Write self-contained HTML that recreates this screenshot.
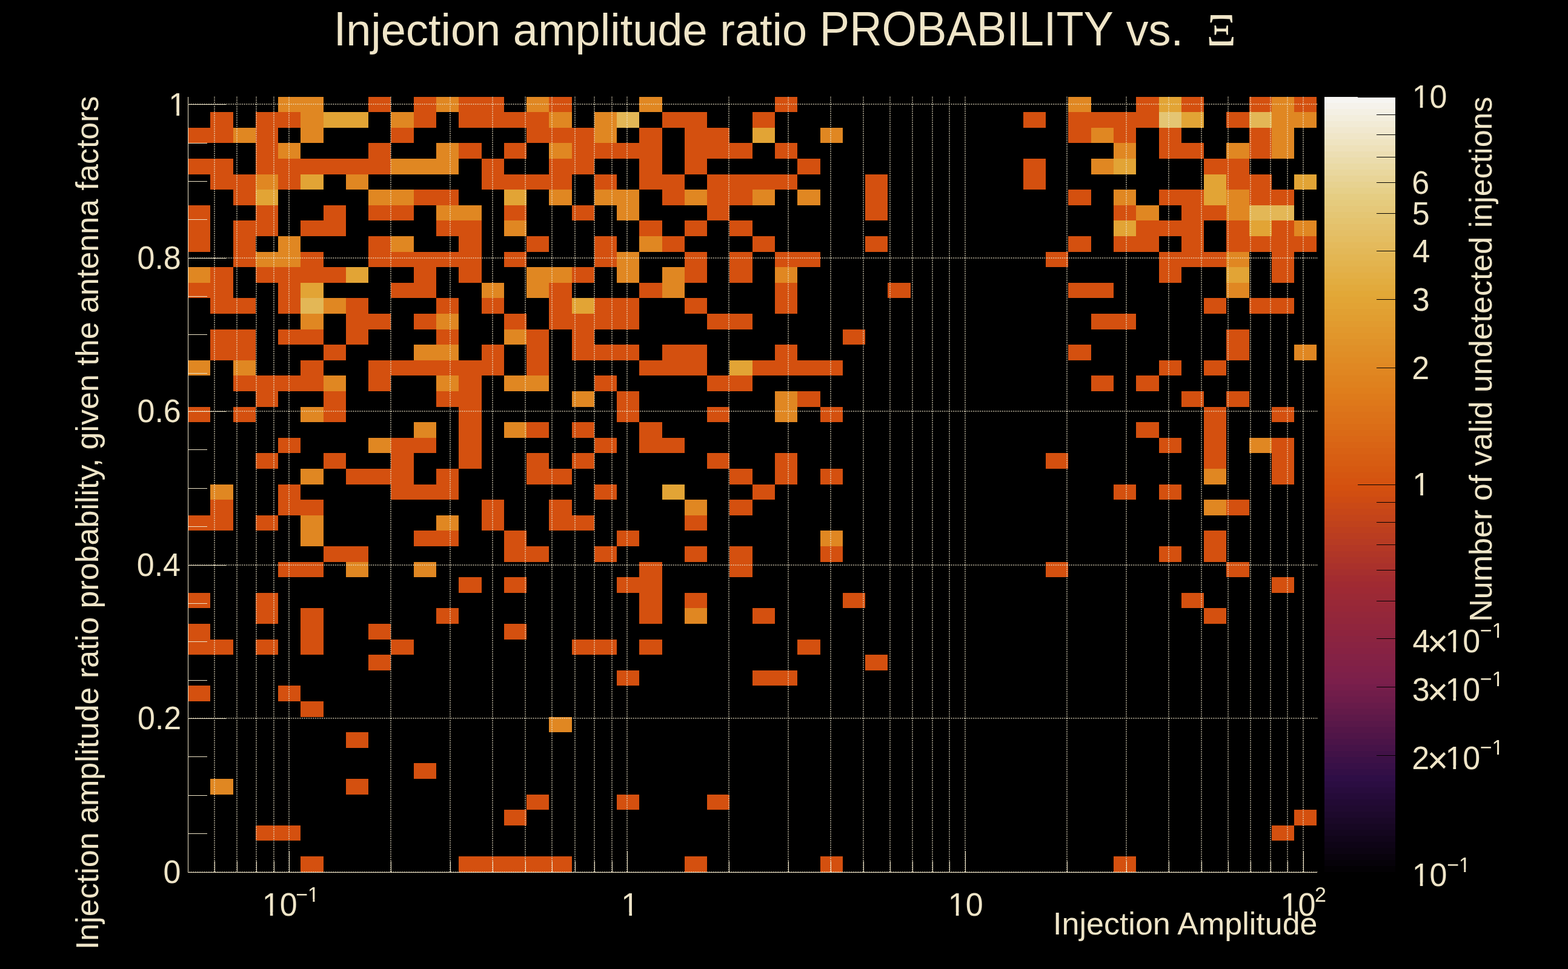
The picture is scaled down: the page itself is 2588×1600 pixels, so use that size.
<!DOCTYPE html>
<html lang="en"><head><meta charset="utf-8"><title>Injection amplitude ratio PROBABILITY vs. Xi</title>
<style>html,body{margin:0;padding:0;background:#000;overflow:hidden}svg{display:block}text{font-family:"Liberation Sans",Arial,Helvetica,sans-serif;fill:#efe5c8}.xi{font-family:"Liberation Serif","DejaVu Serif",serif}</style>
</head><body>
<svg xmlns="http://www.w3.org/2000/svg" width="2588" height="1600" viewBox="0 0 2588 1600">
<rect x="0" y="0" width="2588" height="1600" fill="#000"/>
<g shape-rendering="crispEdges">
<rect x="459" y="160" width="75" height="25" fill="#e08722"/>
<rect x="608" y="160" width="37" height="25" fill="#d4500f"/>
<rect x="683" y="160" width="37" height="25" fill="#d4500f"/>
<rect x="720" y="160" width="37" height="25" fill="#e08722"/>
<rect x="757" y="160" width="75" height="25" fill="#d4500f"/>
<rect x="869" y="160" width="37" height="25" fill="#e08722"/>
<rect x="906" y="160" width="38" height="25" fill="#d4500f"/>
<rect x="1055" y="160" width="38" height="25" fill="#e08722"/>
<rect x="1279" y="160" width="37" height="25" fill="#d4500f"/>
<rect x="1763" y="160" width="38" height="25" fill="#e08722"/>
<rect x="1875" y="160" width="38" height="25" fill="#d4500f"/>
<rect x="1913" y="160" width="37" height="25" fill="#e2a435"/>
<rect x="1950" y="160" width="37" height="25" fill="#d4500f"/>
<rect x="2062" y="160" width="37" height="25" fill="#d4500f"/>
<rect x="2099" y="160" width="37" height="25" fill="#e08722"/>
<rect x="2136" y="160" width="37" height="25" fill="#d4500f"/>
<rect x="347" y="185" width="38" height="26" fill="#d4500f"/>
<rect x="422" y="185" width="74" height="26" fill="#d4500f"/>
<rect x="496" y="185" width="38" height="26" fill="#e08722"/>
<rect x="534" y="185" width="74" height="26" fill="#e2a435"/>
<rect x="645" y="185" width="38" height="26" fill="#e08722"/>
<rect x="683" y="185" width="37" height="26" fill="#d4500f"/>
<rect x="757" y="185" width="149" height="26" fill="#d4500f"/>
<rect x="906" y="185" width="38" height="26" fill="#e08722"/>
<rect x="981" y="185" width="37" height="26" fill="#e08722"/>
<rect x="1018" y="185" width="37" height="26" fill="#e3b756"/>
<rect x="1093" y="185" width="74" height="26" fill="#d4500f"/>
<rect x="1242" y="185" width="37" height="26" fill="#d4500f"/>
<rect x="1689" y="185" width="37" height="26" fill="#d4500f"/>
<rect x="1763" y="185" width="150" height="26" fill="#d4500f"/>
<rect x="1913" y="185" width="37" height="26" fill="#e4c573"/>
<rect x="1950" y="185" width="37" height="26" fill="#e2a435"/>
<rect x="2024" y="185" width="38" height="26" fill="#d4500f"/>
<rect x="2062" y="185" width="37" height="26" fill="#e3b756"/>
<rect x="2099" y="185" width="74" height="26" fill="#e08722"/>
<rect x="310" y="211" width="75" height="25" fill="#d4500f"/>
<rect x="385" y="211" width="37" height="25" fill="#e08722"/>
<rect x="422" y="211" width="37" height="25" fill="#d4500f"/>
<rect x="496" y="211" width="38" height="25" fill="#e08722"/>
<rect x="645" y="211" width="38" height="25" fill="#d4500f"/>
<rect x="869" y="211" width="112" height="25" fill="#d4500f"/>
<rect x="981" y="211" width="37" height="25" fill="#e08722"/>
<rect x="1055" y="211" width="38" height="25" fill="#d4500f"/>
<rect x="1130" y="211" width="74" height="25" fill="#d4500f"/>
<rect x="1242" y="211" width="37" height="25" fill="#e2a435"/>
<rect x="1354" y="211" width="37" height="25" fill="#e08722"/>
<rect x="1763" y="211" width="38" height="25" fill="#d4500f"/>
<rect x="1801" y="211" width="37" height="25" fill="#e08722"/>
<rect x="1838" y="211" width="37" height="25" fill="#d4500f"/>
<rect x="1913" y="211" width="37" height="25" fill="#d4500f"/>
<rect x="2062" y="211" width="37" height="25" fill="#d4500f"/>
<rect x="2099" y="211" width="37" height="25" fill="#e08722"/>
<rect x="422" y="236" width="37" height="26" fill="#d4500f"/>
<rect x="459" y="236" width="37" height="26" fill="#e08722"/>
<rect x="608" y="236" width="37" height="26" fill="#d4500f"/>
<rect x="720" y="236" width="37" height="26" fill="#e08722"/>
<rect x="757" y="236" width="38" height="26" fill="#d4500f"/>
<rect x="832" y="236" width="37" height="26" fill="#d4500f"/>
<rect x="906" y="236" width="38" height="26" fill="#e08722"/>
<rect x="944" y="236" width="149" height="26" fill="#d4500f"/>
<rect x="1130" y="236" width="112" height="26" fill="#d4500f"/>
<rect x="1279" y="236" width="37" height="26" fill="#d4500f"/>
<rect x="1838" y="236" width="37" height="26" fill="#e08722"/>
<rect x="1913" y="236" width="74" height="26" fill="#d4500f"/>
<rect x="2024" y="236" width="38" height="26" fill="#e08722"/>
<rect x="2062" y="236" width="37" height="26" fill="#d4500f"/>
<rect x="2099" y="236" width="37" height="26" fill="#e08722"/>
<rect x="310" y="262" width="75" height="26" fill="#d4500f"/>
<rect x="422" y="262" width="223" height="26" fill="#d4500f"/>
<rect x="645" y="262" width="112" height="26" fill="#e08722"/>
<rect x="795" y="262" width="37" height="26" fill="#d4500f"/>
<rect x="906" y="262" width="75" height="26" fill="#d4500f"/>
<rect x="1055" y="262" width="38" height="26" fill="#d4500f"/>
<rect x="1130" y="262" width="37" height="26" fill="#d4500f"/>
<rect x="1316" y="262" width="38" height="26" fill="#d4500f"/>
<rect x="1689" y="262" width="37" height="26" fill="#d4500f"/>
<rect x="1801" y="262" width="37" height="26" fill="#e08722"/>
<rect x="1838" y="262" width="37" height="26" fill="#e2a435"/>
<rect x="1987" y="262" width="75" height="26" fill="#d4500f"/>
<rect x="347" y="288" width="75" height="25" fill="#d4500f"/>
<rect x="422" y="288" width="37" height="25" fill="#e08722"/>
<rect x="459" y="288" width="37" height="25" fill="#d4500f"/>
<rect x="496" y="288" width="38" height="25" fill="#e2a435"/>
<rect x="571" y="288" width="37" height="25" fill="#e08722"/>
<rect x="795" y="288" width="149" height="25" fill="#d4500f"/>
<rect x="981" y="288" width="37" height="25" fill="#d4500f"/>
<rect x="1055" y="288" width="75" height="25" fill="#d4500f"/>
<rect x="1167" y="288" width="149" height="25" fill="#d4500f"/>
<rect x="1428" y="288" width="37" height="25" fill="#d4500f"/>
<rect x="1689" y="288" width="37" height="25" fill="#d4500f"/>
<rect x="1987" y="288" width="37" height="25" fill="#e2a435"/>
<rect x="2024" y="288" width="75" height="25" fill="#d4500f"/>
<rect x="2136" y="288" width="37" height="25" fill="#e2a435"/>
<rect x="385" y="313" width="37" height="26" fill="#d4500f"/>
<rect x="422" y="313" width="37" height="26" fill="#e2a435"/>
<rect x="608" y="313" width="75" height="26" fill="#e08722"/>
<rect x="683" y="313" width="74" height="26" fill="#d4500f"/>
<rect x="832" y="313" width="37" height="26" fill="#e2a435"/>
<rect x="906" y="313" width="38" height="26" fill="#e08722"/>
<rect x="981" y="313" width="74" height="26" fill="#e08722"/>
<rect x="1093" y="313" width="37" height="26" fill="#d4500f"/>
<rect x="1130" y="313" width="37" height="26" fill="#e08722"/>
<rect x="1167" y="313" width="75" height="26" fill="#d4500f"/>
<rect x="1242" y="313" width="37" height="26" fill="#e08722"/>
<rect x="1316" y="313" width="38" height="26" fill="#e08722"/>
<rect x="1428" y="313" width="37" height="26" fill="#d4500f"/>
<rect x="1763" y="313" width="38" height="26" fill="#d4500f"/>
<rect x="1838" y="313" width="37" height="26" fill="#e08722"/>
<rect x="1913" y="313" width="74" height="26" fill="#d4500f"/>
<rect x="1987" y="313" width="37" height="26" fill="#e2a435"/>
<rect x="2024" y="313" width="38" height="26" fill="#e08722"/>
<rect x="2062" y="313" width="74" height="26" fill="#d4500f"/>
<rect x="310" y="339" width="37" height="25" fill="#d4500f"/>
<rect x="422" y="339" width="37" height="25" fill="#d4500f"/>
<rect x="534" y="339" width="37" height="25" fill="#d4500f"/>
<rect x="608" y="339" width="75" height="25" fill="#d4500f"/>
<rect x="720" y="339" width="75" height="25" fill="#e08722"/>
<rect x="832" y="339" width="37" height="25" fill="#d4500f"/>
<rect x="944" y="339" width="37" height="25" fill="#d4500f"/>
<rect x="1018" y="339" width="37" height="25" fill="#e08722"/>
<rect x="1167" y="339" width="37" height="25" fill="#d4500f"/>
<rect x="1428" y="339" width="37" height="25" fill="#d4500f"/>
<rect x="1838" y="339" width="37" height="25" fill="#d4500f"/>
<rect x="1875" y="339" width="38" height="25" fill="#e08722"/>
<rect x="1950" y="339" width="74" height="25" fill="#d4500f"/>
<rect x="2024" y="339" width="38" height="25" fill="#e08722"/>
<rect x="2062" y="339" width="74" height="25" fill="#e3b756"/>
<rect x="310" y="364" width="37" height="26" fill="#d4500f"/>
<rect x="385" y="364" width="74" height="26" fill="#d4500f"/>
<rect x="496" y="364" width="75" height="26" fill="#d4500f"/>
<rect x="720" y="364" width="75" height="26" fill="#d4500f"/>
<rect x="832" y="364" width="37" height="26" fill="#e08722"/>
<rect x="1055" y="364" width="38" height="26" fill="#d4500f"/>
<rect x="1130" y="364" width="37" height="26" fill="#d4500f"/>
<rect x="1204" y="364" width="38" height="26" fill="#d4500f"/>
<rect x="1838" y="364" width="37" height="26" fill="#e2a435"/>
<rect x="1875" y="364" width="112" height="26" fill="#d4500f"/>
<rect x="2024" y="364" width="38" height="26" fill="#d4500f"/>
<rect x="2062" y="364" width="37" height="26" fill="#e2a435"/>
<rect x="2099" y="364" width="37" height="26" fill="#d4500f"/>
<rect x="2136" y="364" width="37" height="26" fill="#e08722"/>
<rect x="310" y="390" width="37" height="26" fill="#d4500f"/>
<rect x="385" y="390" width="37" height="26" fill="#d4500f"/>
<rect x="459" y="390" width="37" height="26" fill="#e08722"/>
<rect x="608" y="390" width="37" height="26" fill="#d4500f"/>
<rect x="645" y="390" width="38" height="26" fill="#e08722"/>
<rect x="757" y="390" width="38" height="26" fill="#d4500f"/>
<rect x="869" y="390" width="37" height="26" fill="#d4500f"/>
<rect x="981" y="390" width="37" height="26" fill="#d4500f"/>
<rect x="1055" y="390" width="38" height="26" fill="#e08722"/>
<rect x="1093" y="390" width="37" height="26" fill="#d4500f"/>
<rect x="1242" y="390" width="37" height="26" fill="#d4500f"/>
<rect x="1428" y="390" width="37" height="26" fill="#d4500f"/>
<rect x="1763" y="390" width="38" height="26" fill="#d4500f"/>
<rect x="1838" y="390" width="75" height="26" fill="#d4500f"/>
<rect x="1950" y="390" width="37" height="26" fill="#d4500f"/>
<rect x="2024" y="390" width="149" height="26" fill="#d4500f"/>
<rect x="385" y="416" width="37" height="25" fill="#d4500f"/>
<rect x="422" y="416" width="74" height="25" fill="#e08722"/>
<rect x="496" y="416" width="38" height="25" fill="#d4500f"/>
<rect x="608" y="416" width="187" height="25" fill="#d4500f"/>
<rect x="832" y="416" width="37" height="25" fill="#d4500f"/>
<rect x="981" y="416" width="37" height="25" fill="#d4500f"/>
<rect x="1018" y="416" width="37" height="25" fill="#e08722"/>
<rect x="1130" y="416" width="37" height="25" fill="#d4500f"/>
<rect x="1204" y="416" width="38" height="25" fill="#d4500f"/>
<rect x="1279" y="416" width="75" height="25" fill="#d4500f"/>
<rect x="1726" y="416" width="37" height="25" fill="#d4500f"/>
<rect x="1913" y="416" width="111" height="25" fill="#d4500f"/>
<rect x="2024" y="416" width="38" height="25" fill="#e08722"/>
<rect x="2099" y="416" width="37" height="25" fill="#d4500f"/>
<rect x="310" y="441" width="37" height="26" fill="#e08722"/>
<rect x="347" y="441" width="38" height="26" fill="#d4500f"/>
<rect x="422" y="441" width="149" height="26" fill="#d4500f"/>
<rect x="571" y="441" width="37" height="26" fill="#e2a435"/>
<rect x="683" y="441" width="37" height="26" fill="#d4500f"/>
<rect x="757" y="441" width="38" height="26" fill="#d4500f"/>
<rect x="869" y="441" width="75" height="26" fill="#e08722"/>
<rect x="944" y="441" width="37" height="26" fill="#d4500f"/>
<rect x="1018" y="441" width="37" height="26" fill="#e08722"/>
<rect x="1093" y="441" width="37" height="26" fill="#e08722"/>
<rect x="1130" y="441" width="37" height="26" fill="#d4500f"/>
<rect x="1204" y="441" width="38" height="26" fill="#d4500f"/>
<rect x="1279" y="441" width="37" height="26" fill="#e08722"/>
<rect x="1913" y="441" width="37" height="26" fill="#d4500f"/>
<rect x="2024" y="441" width="38" height="26" fill="#e2a435"/>
<rect x="2099" y="441" width="37" height="26" fill="#d4500f"/>
<rect x="310" y="467" width="75" height="25" fill="#d4500f"/>
<rect x="459" y="467" width="37" height="25" fill="#d4500f"/>
<rect x="496" y="467" width="38" height="25" fill="#e2a435"/>
<rect x="645" y="467" width="75" height="25" fill="#d4500f"/>
<rect x="795" y="467" width="37" height="25" fill="#e08722"/>
<rect x="869" y="467" width="37" height="25" fill="#e08722"/>
<rect x="906" y="467" width="38" height="25" fill="#d4500f"/>
<rect x="1055" y="467" width="38" height="25" fill="#d4500f"/>
<rect x="1093" y="467" width="37" height="25" fill="#e08722"/>
<rect x="1279" y="467" width="37" height="25" fill="#d4500f"/>
<rect x="1465" y="467" width="38" height="25" fill="#d4500f"/>
<rect x="1763" y="467" width="75" height="25" fill="#d4500f"/>
<rect x="2024" y="467" width="38" height="25" fill="#e08722"/>
<rect x="347" y="492" width="75" height="26" fill="#d4500f"/>
<rect x="459" y="492" width="37" height="26" fill="#d4500f"/>
<rect x="496" y="492" width="38" height="26" fill="#e3b756"/>
<rect x="534" y="492" width="37" height="26" fill="#e08722"/>
<rect x="571" y="492" width="37" height="26" fill="#d4500f"/>
<rect x="720" y="492" width="37" height="26" fill="#d4500f"/>
<rect x="795" y="492" width="37" height="26" fill="#d4500f"/>
<rect x="906" y="492" width="38" height="26" fill="#d4500f"/>
<rect x="944" y="492" width="37" height="26" fill="#e2a435"/>
<rect x="981" y="492" width="74" height="26" fill="#d4500f"/>
<rect x="1130" y="492" width="37" height="26" fill="#d4500f"/>
<rect x="1279" y="492" width="37" height="26" fill="#d4500f"/>
<rect x="1987" y="492" width="37" height="26" fill="#d4500f"/>
<rect x="2062" y="492" width="74" height="26" fill="#d4500f"/>
<rect x="496" y="518" width="38" height="26" fill="#e08722"/>
<rect x="571" y="518" width="74" height="26" fill="#d4500f"/>
<rect x="683" y="518" width="37" height="26" fill="#d4500f"/>
<rect x="720" y="518" width="37" height="26" fill="#e08722"/>
<rect x="832" y="518" width="37" height="26" fill="#d4500f"/>
<rect x="906" y="518" width="149" height="26" fill="#d4500f"/>
<rect x="1167" y="518" width="75" height="26" fill="#d4500f"/>
<rect x="1801" y="518" width="74" height="26" fill="#d4500f"/>
<rect x="347" y="544" width="75" height="25" fill="#d4500f"/>
<rect x="459" y="544" width="75" height="25" fill="#d4500f"/>
<rect x="571" y="544" width="37" height="25" fill="#d4500f"/>
<rect x="720" y="544" width="37" height="25" fill="#d4500f"/>
<rect x="832" y="544" width="37" height="25" fill="#e08722"/>
<rect x="869" y="544" width="37" height="25" fill="#d4500f"/>
<rect x="944" y="544" width="37" height="25" fill="#d4500f"/>
<rect x="1391" y="544" width="37" height="25" fill="#d4500f"/>
<rect x="2024" y="544" width="38" height="25" fill="#d4500f"/>
<rect x="347" y="569" width="75" height="26" fill="#d4500f"/>
<rect x="534" y="569" width="37" height="26" fill="#d4500f"/>
<rect x="683" y="569" width="74" height="26" fill="#e08722"/>
<rect x="795" y="569" width="37" height="26" fill="#d4500f"/>
<rect x="869" y="569" width="37" height="26" fill="#d4500f"/>
<rect x="944" y="569" width="111" height="26" fill="#d4500f"/>
<rect x="1093" y="569" width="74" height="26" fill="#d4500f"/>
<rect x="1279" y="569" width="37" height="26" fill="#d4500f"/>
<rect x="1763" y="569" width="38" height="26" fill="#d4500f"/>
<rect x="2024" y="569" width="38" height="26" fill="#d4500f"/>
<rect x="2136" y="569" width="37" height="26" fill="#e08722"/>
<rect x="310" y="595" width="37" height="25" fill="#e08722"/>
<rect x="385" y="595" width="37" height="25" fill="#e08722"/>
<rect x="496" y="595" width="38" height="25" fill="#d4500f"/>
<rect x="608" y="595" width="224" height="25" fill="#d4500f"/>
<rect x="869" y="595" width="37" height="25" fill="#d4500f"/>
<rect x="1055" y="595" width="112" height="25" fill="#d4500f"/>
<rect x="1204" y="595" width="38" height="25" fill="#e2a435"/>
<rect x="1242" y="595" width="149" height="25" fill="#d4500f"/>
<rect x="1913" y="595" width="37" height="25" fill="#d4500f"/>
<rect x="1987" y="595" width="37" height="25" fill="#d4500f"/>
<rect x="385" y="620" width="149" height="26" fill="#d4500f"/>
<rect x="534" y="620" width="37" height="26" fill="#e08722"/>
<rect x="608" y="620" width="37" height="26" fill="#d4500f"/>
<rect x="720" y="620" width="37" height="26" fill="#e08722"/>
<rect x="757" y="620" width="38" height="26" fill="#d4500f"/>
<rect x="832" y="620" width="74" height="26" fill="#e08722"/>
<rect x="981" y="620" width="37" height="26" fill="#d4500f"/>
<rect x="1167" y="620" width="75" height="26" fill="#d4500f"/>
<rect x="1801" y="620" width="37" height="26" fill="#d4500f"/>
<rect x="1875" y="620" width="38" height="26" fill="#d4500f"/>
<rect x="422" y="646" width="37" height="26" fill="#d4500f"/>
<rect x="534" y="646" width="37" height="26" fill="#d4500f"/>
<rect x="720" y="646" width="75" height="26" fill="#d4500f"/>
<rect x="944" y="646" width="37" height="26" fill="#e08722"/>
<rect x="1018" y="646" width="37" height="26" fill="#d4500f"/>
<rect x="1279" y="646" width="37" height="26" fill="#e08722"/>
<rect x="1316" y="646" width="38" height="26" fill="#d4500f"/>
<rect x="1950" y="646" width="37" height="26" fill="#d4500f"/>
<rect x="2024" y="646" width="38" height="26" fill="#d4500f"/>
<rect x="310" y="672" width="37" height="25" fill="#d4500f"/>
<rect x="385" y="672" width="37" height="25" fill="#d4500f"/>
<rect x="496" y="672" width="38" height="25" fill="#e08722"/>
<rect x="534" y="672" width="37" height="25" fill="#d4500f"/>
<rect x="757" y="672" width="38" height="25" fill="#d4500f"/>
<rect x="1018" y="672" width="37" height="25" fill="#d4500f"/>
<rect x="1167" y="672" width="37" height="25" fill="#d4500f"/>
<rect x="1279" y="672" width="37" height="25" fill="#e08722"/>
<rect x="1354" y="672" width="37" height="25" fill="#d4500f"/>
<rect x="1987" y="672" width="37" height="25" fill="#d4500f"/>
<rect x="2099" y="672" width="37" height="25" fill="#d4500f"/>
<rect x="683" y="697" width="37" height="26" fill="#e08722"/>
<rect x="757" y="697" width="38" height="26" fill="#d4500f"/>
<rect x="832" y="697" width="37" height="26" fill="#e08722"/>
<rect x="869" y="697" width="37" height="26" fill="#d4500f"/>
<rect x="944" y="697" width="37" height="26" fill="#d4500f"/>
<rect x="1055" y="697" width="38" height="26" fill="#d4500f"/>
<rect x="1875" y="697" width="38" height="26" fill="#d4500f"/>
<rect x="1987" y="697" width="37" height="26" fill="#d4500f"/>
<rect x="459" y="723" width="37" height="25" fill="#d4500f"/>
<rect x="608" y="723" width="37" height="25" fill="#e08722"/>
<rect x="645" y="723" width="75" height="25" fill="#d4500f"/>
<rect x="757" y="723" width="38" height="25" fill="#d4500f"/>
<rect x="981" y="723" width="37" height="25" fill="#d4500f"/>
<rect x="1055" y="723" width="75" height="25" fill="#d4500f"/>
<rect x="1913" y="723" width="37" height="25" fill="#d4500f"/>
<rect x="1987" y="723" width="37" height="25" fill="#d4500f"/>
<rect x="2062" y="723" width="37" height="25" fill="#e08722"/>
<rect x="2099" y="723" width="37" height="25" fill="#d4500f"/>
<rect x="422" y="748" width="37" height="26" fill="#d4500f"/>
<rect x="534" y="748" width="37" height="26" fill="#d4500f"/>
<rect x="645" y="748" width="38" height="26" fill="#d4500f"/>
<rect x="757" y="748" width="38" height="26" fill="#d4500f"/>
<rect x="869" y="748" width="37" height="26" fill="#d4500f"/>
<rect x="944" y="748" width="37" height="26" fill="#d4500f"/>
<rect x="1167" y="748" width="37" height="26" fill="#d4500f"/>
<rect x="1279" y="748" width="37" height="26" fill="#d4500f"/>
<rect x="1726" y="748" width="37" height="26" fill="#d4500f"/>
<rect x="1987" y="748" width="37" height="26" fill="#d4500f"/>
<rect x="2099" y="748" width="37" height="26" fill="#d4500f"/>
<rect x="496" y="774" width="38" height="26" fill="#e08722"/>
<rect x="571" y="774" width="112" height="26" fill="#d4500f"/>
<rect x="720" y="774" width="37" height="26" fill="#d4500f"/>
<rect x="869" y="774" width="75" height="26" fill="#d4500f"/>
<rect x="1204" y="774" width="38" height="26" fill="#d4500f"/>
<rect x="1279" y="774" width="37" height="26" fill="#d4500f"/>
<rect x="1354" y="774" width="37" height="26" fill="#d4500f"/>
<rect x="1987" y="774" width="37" height="26" fill="#e08722"/>
<rect x="2099" y="774" width="37" height="26" fill="#d4500f"/>
<rect x="347" y="800" width="38" height="25" fill="#e08722"/>
<rect x="459" y="800" width="37" height="25" fill="#d4500f"/>
<rect x="645" y="800" width="112" height="25" fill="#d4500f"/>
<rect x="981" y="800" width="37" height="25" fill="#d4500f"/>
<rect x="1093" y="800" width="37" height="25" fill="#e2a435"/>
<rect x="1242" y="800" width="37" height="25" fill="#d4500f"/>
<rect x="1838" y="800" width="37" height="25" fill="#d4500f"/>
<rect x="1913" y="800" width="37" height="25" fill="#d4500f"/>
<rect x="347" y="825" width="38" height="26" fill="#d4500f"/>
<rect x="459" y="825" width="75" height="26" fill="#d4500f"/>
<rect x="795" y="825" width="37" height="26" fill="#d4500f"/>
<rect x="906" y="825" width="38" height="26" fill="#d4500f"/>
<rect x="1130" y="825" width="37" height="26" fill="#e08722"/>
<rect x="1204" y="825" width="38" height="26" fill="#d4500f"/>
<rect x="1987" y="825" width="37" height="26" fill="#e08722"/>
<rect x="2024" y="825" width="38" height="26" fill="#d4500f"/>
<rect x="310" y="851" width="75" height="25" fill="#d4500f"/>
<rect x="422" y="851" width="37" height="25" fill="#d4500f"/>
<rect x="496" y="851" width="38" height="25" fill="#e08722"/>
<rect x="720" y="851" width="37" height="25" fill="#e08722"/>
<rect x="795" y="851" width="37" height="25" fill="#d4500f"/>
<rect x="906" y="851" width="75" height="25" fill="#d4500f"/>
<rect x="1130" y="851" width="37" height="25" fill="#d4500f"/>
<rect x="496" y="876" width="38" height="26" fill="#e08722"/>
<rect x="683" y="876" width="74" height="26" fill="#d4500f"/>
<rect x="832" y="876" width="37" height="26" fill="#d4500f"/>
<rect x="1018" y="876" width="37" height="26" fill="#d4500f"/>
<rect x="1354" y="876" width="37" height="26" fill="#e08722"/>
<rect x="1987" y="876" width="37" height="26" fill="#d4500f"/>
<rect x="534" y="902" width="74" height="26" fill="#d4500f"/>
<rect x="832" y="902" width="74" height="26" fill="#d4500f"/>
<rect x="981" y="902" width="37" height="26" fill="#d4500f"/>
<rect x="1130" y="902" width="37" height="26" fill="#d4500f"/>
<rect x="1204" y="902" width="38" height="26" fill="#d4500f"/>
<rect x="1354" y="902" width="37" height="26" fill="#d4500f"/>
<rect x="1913" y="902" width="37" height="26" fill="#d4500f"/>
<rect x="1987" y="902" width="37" height="26" fill="#d4500f"/>
<rect x="459" y="928" width="75" height="25" fill="#d4500f"/>
<rect x="571" y="928" width="37" height="25" fill="#e08722"/>
<rect x="683" y="928" width="37" height="25" fill="#e08722"/>
<rect x="1055" y="928" width="38" height="25" fill="#d4500f"/>
<rect x="1204" y="928" width="38" height="25" fill="#d4500f"/>
<rect x="1726" y="928" width="37" height="25" fill="#d4500f"/>
<rect x="2024" y="928" width="38" height="25" fill="#d4500f"/>
<rect x="757" y="953" width="38" height="26" fill="#d4500f"/>
<rect x="832" y="953" width="37" height="26" fill="#d4500f"/>
<rect x="1018" y="953" width="75" height="26" fill="#d4500f"/>
<rect x="2099" y="953" width="37" height="26" fill="#d4500f"/>
<rect x="310" y="979" width="37" height="25" fill="#d4500f"/>
<rect x="422" y="979" width="37" height="25" fill="#d4500f"/>
<rect x="1055" y="979" width="38" height="25" fill="#d4500f"/>
<rect x="1130" y="979" width="37" height="25" fill="#d4500f"/>
<rect x="1391" y="979" width="37" height="25" fill="#d4500f"/>
<rect x="1950" y="979" width="37" height="25" fill="#d4500f"/>
<rect x="422" y="1004" width="37" height="26" fill="#d4500f"/>
<rect x="496" y="1004" width="38" height="26" fill="#d4500f"/>
<rect x="720" y="1004" width="37" height="26" fill="#d4500f"/>
<rect x="1055" y="1004" width="38" height="26" fill="#d4500f"/>
<rect x="1130" y="1004" width="37" height="26" fill="#e08722"/>
<rect x="1242" y="1004" width="37" height="26" fill="#d4500f"/>
<rect x="1987" y="1004" width="37" height="26" fill="#d4500f"/>
<rect x="310" y="1030" width="37" height="26" fill="#d4500f"/>
<rect x="496" y="1030" width="38" height="26" fill="#d4500f"/>
<rect x="608" y="1030" width="37" height="26" fill="#d4500f"/>
<rect x="832" y="1030" width="37" height="26" fill="#d4500f"/>
<rect x="310" y="1056" width="75" height="25" fill="#d4500f"/>
<rect x="422" y="1056" width="37" height="25" fill="#d4500f"/>
<rect x="496" y="1056" width="38" height="25" fill="#d4500f"/>
<rect x="645" y="1056" width="38" height="25" fill="#d4500f"/>
<rect x="944" y="1056" width="74" height="25" fill="#d4500f"/>
<rect x="1055" y="1056" width="38" height="25" fill="#d4500f"/>
<rect x="1316" y="1056" width="38" height="25" fill="#d4500f"/>
<rect x="608" y="1081" width="37" height="26" fill="#d4500f"/>
<rect x="1428" y="1081" width="37" height="26" fill="#d4500f"/>
<rect x="1018" y="1107" width="37" height="25" fill="#d4500f"/>
<rect x="1242" y="1107" width="74" height="25" fill="#d4500f"/>
<rect x="310" y="1132" width="37" height="26" fill="#d4500f"/>
<rect x="459" y="1132" width="37" height="26" fill="#d4500f"/>
<rect x="496" y="1158" width="38" height="26" fill="#d4500f"/>
<rect x="906" y="1184" width="38" height="25" fill="#e08722"/>
<rect x="571" y="1209" width="37" height="26" fill="#d4500f"/>
<rect x="683" y="1260" width="37" height="26" fill="#d4500f"/>
<rect x="347" y="1286" width="38" height="26" fill="#e08722"/>
<rect x="571" y="1286" width="37" height="26" fill="#d4500f"/>
<rect x="869" y="1312" width="37" height="25" fill="#d4500f"/>
<rect x="1018" y="1312" width="37" height="25" fill="#d4500f"/>
<rect x="1167" y="1312" width="37" height="25" fill="#d4500f"/>
<rect x="832" y="1337" width="37" height="26" fill="#d4500f"/>
<rect x="2136" y="1337" width="37" height="26" fill="#d4500f"/>
<rect x="422" y="1363" width="74" height="25" fill="#d4500f"/>
<rect x="2099" y="1363" width="37" height="25" fill="#d4500f"/>
<rect x="496" y="1414" width="38" height="26" fill="#d4500f"/>
<rect x="757" y="1414" width="187" height="26" fill="#d4500f"/>
<rect x="1130" y="1414" width="37" height="26" fill="#d4500f"/>
<rect x="1354" y="1414" width="37" height="26" fill="#d4500f"/>
<rect x="1838" y="1414" width="37" height="26" fill="#d4500f"/>
</g>
<g shape-rendering="crispEdges" stroke="#efe5c8" fill="none">
<line x1="354" y1="160" x2="354" y2="1440" stroke-width="2" stroke-dasharray="1 2"/>
<line x1="391" y1="160" x2="391" y2="1440" stroke-width="2" stroke-dasharray="1 2"/>
<line x1="423" y1="160" x2="423" y2="1440" stroke-width="2" stroke-dasharray="1 2"/>
<line x1="452" y1="160" x2="452" y2="1440" stroke-width="2" stroke-dasharray="1 2"/>
<line x1="477" y1="160" x2="477" y2="1440" stroke-width="2" stroke-dasharray="1 2"/>
<line x1="645" y1="160" x2="645" y2="1440" stroke-width="2" stroke-dasharray="1 2"/>
<line x1="743" y1="160" x2="743" y2="1440" stroke-width="2" stroke-dasharray="1 2"/>
<line x1="813" y1="160" x2="813" y2="1440" stroke-width="2" stroke-dasharray="1 2"/>
<line x1="867" y1="160" x2="867" y2="1440" stroke-width="2" stroke-dasharray="1 2"/>
<line x1="911" y1="160" x2="911" y2="1440" stroke-width="2" stroke-dasharray="1 2"/>
<line x1="949" y1="160" x2="949" y2="1440" stroke-width="2" stroke-dasharray="1 2"/>
<line x1="981" y1="160" x2="981" y2="1440" stroke-width="2" stroke-dasharray="1 2"/>
<line x1="1010" y1="160" x2="1010" y2="1440" stroke-width="2" stroke-dasharray="1 2"/>
<line x1="1035" y1="160" x2="1035" y2="1440" stroke-width="2" stroke-dasharray="1 2"/>
<line x1="1203" y1="160" x2="1203" y2="1440" stroke-width="2" stroke-dasharray="1 2"/>
<line x1="1301" y1="160" x2="1301" y2="1440" stroke-width="2" stroke-dasharray="1 2"/>
<line x1="1371" y1="160" x2="1371" y2="1440" stroke-width="2" stroke-dasharray="1 2"/>
<line x1="1425" y1="160" x2="1425" y2="1440" stroke-width="2" stroke-dasharray="1 2"/>
<line x1="1469" y1="160" x2="1469" y2="1440" stroke-width="2" stroke-dasharray="1 2"/>
<line x1="1506" y1="160" x2="1506" y2="1440" stroke-width="2" stroke-dasharray="1 2"/>
<line x1="1539" y1="160" x2="1539" y2="1440" stroke-width="2" stroke-dasharray="1 2"/>
<line x1="1567" y1="160" x2="1567" y2="1440" stroke-width="2" stroke-dasharray="1 2"/>
<line x1="1593" y1="160" x2="1593" y2="1440" stroke-width="2" stroke-dasharray="1 2"/>
<line x1="1761" y1="160" x2="1761" y2="1440" stroke-width="2" stroke-dasharray="1 2"/>
<line x1="1859" y1="160" x2="1859" y2="1440" stroke-width="2" stroke-dasharray="1 2"/>
<line x1="1929" y1="160" x2="1929" y2="1440" stroke-width="2" stroke-dasharray="1 2"/>
<line x1="1983" y1="160" x2="1983" y2="1440" stroke-width="2" stroke-dasharray="1 2"/>
<line x1="2027" y1="160" x2="2027" y2="1440" stroke-width="2" stroke-dasharray="1 2"/>
<line x1="2064" y1="160" x2="2064" y2="1440" stroke-width="2" stroke-dasharray="1 2"/>
<line x1="2097" y1="160" x2="2097" y2="1440" stroke-width="2" stroke-dasharray="1 2"/>
<line x1="2125" y1="160" x2="2125" y2="1440" stroke-width="2" stroke-dasharray="1 2"/>
<line x1="2151" y1="160" x2="2151" y2="1440" stroke-width="2" stroke-dasharray="1 2"/>
<line x1="310" y1="1440" x2="2174" y2="1440" stroke-width="2" stroke-dasharray="1 2"/>
<line x1="310" y1="1186" x2="2174" y2="1186" stroke-width="2" stroke-dasharray="1 2"/>
<line x1="310" y1="933" x2="2174" y2="933" stroke-width="2" stroke-dasharray="1 2"/>
<line x1="310" y1="679" x2="2174" y2="679" stroke-width="2" stroke-dasharray="1 2"/>
<line x1="310" y1="426" x2="2174" y2="426" stroke-width="2" stroke-dasharray="1 2"/>
<line x1="310" y1="172" x2="2174" y2="172" stroke-width="2" stroke-dasharray="1 2"/>
<rect x="310" y="160" width="1" height="1281" fill="#efe5c8" stroke="none"/>
<rect x="310" y="1440" width="1864" height="1" fill="#efe5c8" stroke="none"/>
<rect x="354" y="1422" width="1" height="18" fill="#efe5c8" stroke="none"/>
<rect x="391" y="1422" width="1" height="18" fill="#efe5c8" stroke="none"/>
<rect x="423" y="1422" width="1" height="18" fill="#efe5c8" stroke="none"/>
<rect x="452" y="1422" width="1" height="18" fill="#efe5c8" stroke="none"/>
<rect x="477" y="1405" width="1" height="35" fill="#efe5c8" stroke="none"/>
<rect x="645" y="1422" width="1" height="18" fill="#efe5c8" stroke="none"/>
<rect x="743" y="1422" width="1" height="18" fill="#efe5c8" stroke="none"/>
<rect x="813" y="1422" width="1" height="18" fill="#efe5c8" stroke="none"/>
<rect x="867" y="1422" width="1" height="18" fill="#efe5c8" stroke="none"/>
<rect x="911" y="1422" width="1" height="18" fill="#efe5c8" stroke="none"/>
<rect x="949" y="1422" width="1" height="18" fill="#efe5c8" stroke="none"/>
<rect x="981" y="1422" width="1" height="18" fill="#efe5c8" stroke="none"/>
<rect x="1010" y="1422" width="1" height="18" fill="#efe5c8" stroke="none"/>
<rect x="1035" y="1405" width="1" height="35" fill="#efe5c8" stroke="none"/>
<rect x="1203" y="1422" width="1" height="18" fill="#efe5c8" stroke="none"/>
<rect x="1301" y="1422" width="1" height="18" fill="#efe5c8" stroke="none"/>
<rect x="1371" y="1422" width="1" height="18" fill="#efe5c8" stroke="none"/>
<rect x="1425" y="1422" width="1" height="18" fill="#efe5c8" stroke="none"/>
<rect x="1469" y="1422" width="1" height="18" fill="#efe5c8" stroke="none"/>
<rect x="1506" y="1422" width="1" height="18" fill="#efe5c8" stroke="none"/>
<rect x="1539" y="1422" width="1" height="18" fill="#efe5c8" stroke="none"/>
<rect x="1567" y="1422" width="1" height="18" fill="#efe5c8" stroke="none"/>
<rect x="1593" y="1405" width="1" height="35" fill="#efe5c8" stroke="none"/>
<rect x="1761" y="1422" width="1" height="18" fill="#efe5c8" stroke="none"/>
<rect x="1859" y="1422" width="1" height="18" fill="#efe5c8" stroke="none"/>
<rect x="1929" y="1422" width="1" height="18" fill="#efe5c8" stroke="none"/>
<rect x="1983" y="1422" width="1" height="18" fill="#efe5c8" stroke="none"/>
<rect x="2027" y="1422" width="1" height="18" fill="#efe5c8" stroke="none"/>
<rect x="2064" y="1422" width="1" height="18" fill="#efe5c8" stroke="none"/>
<rect x="2097" y="1422" width="1" height="18" fill="#efe5c8" stroke="none"/>
<rect x="2125" y="1422" width="1" height="18" fill="#efe5c8" stroke="none"/>
<rect x="2151" y="1405" width="1" height="35" fill="#efe5c8" stroke="none"/>
<rect x="311" y="1440" width="63" height="1" fill="#efe5c8" stroke="none"/>
<rect x="311" y="1376" width="31" height="1" fill="#efe5c8" stroke="none"/>
<rect x="311" y="1313" width="31" height="1" fill="#efe5c8" stroke="none"/>
<rect x="311" y="1249" width="31" height="1" fill="#efe5c8" stroke="none"/>
<rect x="311" y="1186" width="63" height="1" fill="#efe5c8" stroke="none"/>
<rect x="311" y="1123" width="31" height="1" fill="#efe5c8" stroke="none"/>
<rect x="311" y="1059" width="31" height="1" fill="#efe5c8" stroke="none"/>
<rect x="311" y="996" width="31" height="1" fill="#efe5c8" stroke="none"/>
<rect x="311" y="933" width="63" height="1" fill="#efe5c8" stroke="none"/>
<rect x="311" y="869" width="31" height="1" fill="#efe5c8" stroke="none"/>
<rect x="311" y="806" width="31" height="1" fill="#efe5c8" stroke="none"/>
<rect x="311" y="742" width="31" height="1" fill="#efe5c8" stroke="none"/>
<rect x="311" y="679" width="63" height="1" fill="#efe5c8" stroke="none"/>
<rect x="311" y="616" width="31" height="1" fill="#efe5c8" stroke="none"/>
<rect x="311" y="552" width="31" height="1" fill="#efe5c8" stroke="none"/>
<rect x="311" y="489" width="31" height="1" fill="#efe5c8" stroke="none"/>
<rect x="311" y="426" width="63" height="1" fill="#efe5c8" stroke="none"/>
<rect x="311" y="362" width="31" height="1" fill="#efe5c8" stroke="none"/>
<rect x="311" y="299" width="31" height="1" fill="#efe5c8" stroke="none"/>
<rect x="311" y="236" width="31" height="1" fill="#efe5c8" stroke="none"/>
<rect x="311" y="172" width="63" height="1" fill="#efe5c8" stroke="none"/>
</g>
<g shape-rendering="crispEdges">
<rect x="2186" y="160" width="117" height="10" fill="#f6f5f2"/>
<rect x="2186" y="170" width="117" height="10" fill="#f5f2eb"/>
<rect x="2186" y="180" width="117" height="10" fill="#f4f0e4"/>
<rect x="2186" y="190" width="117" height="10" fill="#f3eedd"/>
<rect x="2186" y="200" width="117" height="10" fill="#f2ebd6"/>
<rect x="2186" y="210" width="117" height="10" fill="#f1e8cf"/>
<rect x="2186" y="220" width="117" height="10" fill="#f0e6c8"/>
<rect x="2186" y="230" width="117" height="10" fill="#efe4c1"/>
<rect x="2186" y="240" width="117" height="10" fill="#eee1ba"/>
<rect x="2186" y="250" width="117" height="10" fill="#ecdeb3"/>
<rect x="2186" y="260" width="117" height="10" fill="#ebdcac"/>
<rect x="2186" y="270" width="117" height="10" fill="#eadaa5"/>
<rect x="2186" y="280" width="117" height="10" fill="#e9d79e"/>
<rect x="2186" y="290" width="117" height="10" fill="#e8d497"/>
<rect x="2186" y="300" width="117" height="10" fill="#e7d290"/>
<rect x="2186" y="310" width="117" height="10" fill="#e6d089"/>
<rect x="2186" y="320" width="117" height="10" fill="#e5cd82"/>
<rect x="2186" y="330" width="117" height="10" fill="#e5cb7d"/>
<rect x="2186" y="340" width="117" height="10" fill="#e5c879"/>
<rect x="2186" y="350" width="117" height="10" fill="#e4c674"/>
<rect x="2186" y="360" width="117" height="10" fill="#e4c46f"/>
<rect x="2186" y="370" width="117" height="10" fill="#e4c16b"/>
<rect x="2186" y="380" width="117" height="10" fill="#e4bf66"/>
<rect x="2186" y="390" width="117" height="10" fill="#e4bd61"/>
<rect x="2186" y="400" width="117" height="10" fill="#e4ba5c"/>
<rect x="2186" y="410" width="117" height="10" fill="#e3b858"/>
<rect x="2186" y="420" width="117" height="10" fill="#e3b653"/>
<rect x="2186" y="430" width="117" height="10" fill="#e3b44e"/>
<rect x="2186" y="440" width="117" height="10" fill="#e3b14a"/>
<rect x="2186" y="450" width="117" height="10" fill="#e3af45"/>
<rect x="2186" y="460" width="117" height="10" fill="#e2ad40"/>
<rect x="2186" y="470" width="117" height="10" fill="#e2aa3c"/>
<rect x="2186" y="480" width="117" height="10" fill="#e2a837"/>
<rect x="2186" y="490" width="117" height="10" fill="#e2a535"/>
<rect x="2186" y="500" width="117" height="10" fill="#e2a334"/>
<rect x="2186" y="510" width="117" height="10" fill="#e1a032"/>
<rect x="2186" y="520" width="117" height="10" fill="#e19e30"/>
<rect x="2186" y="530" width="117" height="10" fill="#e19b2f"/>
<rect x="2186" y="540" width="117" height="10" fill="#e1982d"/>
<rect x="2186" y="550" width="117" height="10" fill="#e1962b"/>
<rect x="2186" y="560" width="117" height="10" fill="#e0932a"/>
<rect x="2186" y="570" width="117" height="10" fill="#e09028"/>
<rect x="2186" y="580" width="117" height="10" fill="#e08e26"/>
<rect x="2186" y="590" width="117" height="10" fill="#e08b24"/>
<rect x="2186" y="600" width="117" height="10" fill="#e08823"/>
<rect x="2186" y="610" width="117" height="10" fill="#e08621"/>
<rect x="2186" y="620" width="117" height="10" fill="#df831f"/>
<rect x="2186" y="630" width="117" height="10" fill="#df811e"/>
<rect x="2186" y="640" width="117" height="10" fill="#df7e1c"/>
<rect x="2186" y="650" width="117" height="10" fill="#de7b1b"/>
<rect x="2186" y="660" width="117" height="10" fill="#de781a"/>
<rect x="2186" y="670" width="117" height="10" fill="#dd751a"/>
<rect x="2186" y="680" width="117" height="10" fill="#dc7219"/>
<rect x="2186" y="690" width="117" height="10" fill="#dc7018"/>
<rect x="2186" y="700" width="117" height="10" fill="#db6d17"/>
<rect x="2186" y="710" width="117" height="10" fill="#da6a16"/>
<rect x="2186" y="720" width="117" height="10" fill="#da6716"/>
<rect x="2186" y="730" width="117" height="10" fill="#d96415"/>
<rect x="2186" y="740" width="117" height="10" fill="#d86114"/>
<rect x="2186" y="750" width="117" height="10" fill="#d75e13"/>
<rect x="2186" y="760" width="117" height="10" fill="#d75c12"/>
<rect x="2186" y="770" width="117" height="10" fill="#d65911"/>
<rect x="2186" y="780" width="117" height="10" fill="#d55611"/>
<rect x="2186" y="790" width="117" height="10" fill="#d55310"/>
<rect x="2186" y="800" width="117" height="10" fill="#d4500f"/>
<rect x="2186" y="810" width="117" height="10" fill="#d14e11"/>
<rect x="2186" y="820" width="117" height="10" fill="#ce4b13"/>
<rect x="2186" y="830" width="117" height="10" fill="#ca4916"/>
<rect x="2186" y="840" width="117" height="10" fill="#c74618"/>
<rect x="2186" y="850" width="117" height="10" fill="#c4441a"/>
<rect x="2186" y="860" width="117" height="10" fill="#c0421c"/>
<rect x="2186" y="870" width="117" height="10" fill="#bd3f1e"/>
<rect x="2186" y="880" width="117" height="10" fill="#ba3d20"/>
<rect x="2186" y="890" width="117" height="10" fill="#b73b23"/>
<rect x="2186" y="900" width="117" height="10" fill="#b43825"/>
<rect x="2186" y="910" width="117" height="10" fill="#b03627"/>
<rect x="2186" y="920" width="117" height="10" fill="#ad3429"/>
<rect x="2186" y="930" width="117" height="10" fill="#aa312b"/>
<rect x="2186" y="940" width="117" height="10" fill="#a62f2e"/>
<rect x="2186" y="950" width="117" height="10" fill="#a32c30"/>
<rect x="2186" y="960" width="117" height="10" fill="#a02a32"/>
<rect x="2186" y="970" width="117" height="10" fill="#9e2934"/>
<rect x="2186" y="980" width="117" height="10" fill="#9b2935"/>
<rect x="2186" y="990" width="117" height="10" fill="#992837"/>
<rect x="2186" y="1000" width="117" height="10" fill="#972738"/>
<rect x="2186" y="1010" width="117" height="10" fill="#94273a"/>
<rect x="2186" y="1020" width="117" height="10" fill="#92263b"/>
<rect x="2186" y="1030" width="117" height="10" fill="#90253d"/>
<rect x="2186" y="1040" width="117" height="10" fill="#8e243e"/>
<rect x="2186" y="1050" width="117" height="10" fill="#8b2440"/>
<rect x="2186" y="1060" width="117" height="10" fill="#892342"/>
<rect x="2186" y="1070" width="117" height="10" fill="#872243"/>
<rect x="2186" y="1080" width="117" height="10" fill="#842245"/>
<rect x="2186" y="1090" width="117" height="10" fill="#822146"/>
<rect x="2186" y="1100" width="117" height="10" fill="#802048"/>
<rect x="2186" y="1110" width="117" height="10" fill="#7d2049"/>
<rect x="2186" y="1120" width="117" height="10" fill="#7b1f4b"/>
<rect x="2186" y="1130" width="117" height="10" fill="#761e4b"/>
<rect x="2186" y="1140" width="117" height="10" fill="#711d4a"/>
<rect x="2186" y="1150" width="117" height="10" fill="#6d1c4a"/>
<rect x="2186" y="1160" width="117" height="10" fill="#681b4a"/>
<rect x="2186" y="1170" width="117" height="10" fill="#631a49"/>
<rect x="2186" y="1180" width="117" height="10" fill="#5e1949"/>
<rect x="2186" y="1190" width="117" height="10" fill="#591849"/>
<rect x="2186" y="1200" width="117" height="10" fill="#541648"/>
<rect x="2186" y="1210" width="117" height="10" fill="#501548"/>
<rect x="2186" y="1220" width="117" height="10" fill="#4b1448"/>
<rect x="2186" y="1230" width="117" height="10" fill="#461348"/>
<rect x="2186" y="1240" width="117" height="10" fill="#411247"/>
<rect x="2186" y="1250" width="117" height="10" fill="#3c1147"/>
<rect x="2186" y="1260" width="117" height="10" fill="#381047"/>
<rect x="2186" y="1270" width="117" height="10" fill="#330f46"/>
<rect x="2186" y="1280" width="117" height="10" fill="#2e0e46"/>
<rect x="2186" y="1290" width="117" height="10" fill="#2b0d42"/>
<rect x="2186" y="1300" width="117" height="10" fill="#280c3d"/>
<rect x="2186" y="1310" width="117" height="10" fill="#250b39"/>
<rect x="2186" y="1320" width="117" height="10" fill="#220a34"/>
<rect x="2186" y="1330" width="117" height="10" fill="#200a30"/>
<rect x="2186" y="1340" width="117" height="10" fill="#1d092c"/>
<rect x="2186" y="1350" width="117" height="10" fill="#1a0827"/>
<rect x="2186" y="1360" width="117" height="10" fill="#170723"/>
<rect x="2186" y="1370" width="117" height="10" fill="#14061f"/>
<rect x="2186" y="1380" width="117" height="10" fill="#11051a"/>
<rect x="2186" y="1390" width="117" height="10" fill="#0e0416"/>
<rect x="2186" y="1400" width="117" height="10" fill="#0c0412"/>
<rect x="2186" y="1410" width="117" height="10" fill="#09030d"/>
<rect x="2186" y="1420" width="117" height="10" fill="#060209"/>
<rect x="2186" y="1430" width="117" height="10" fill="#030104"/>
</g>
<g shape-rendering="crispEdges" fill="#000">
<rect x="2241" y="1440" width="62" height="1"/>
<rect x="2272" y="1247" width="31" height="1"/>
<rect x="2272" y="1134" width="31" height="1"/>
<rect x="2272" y="1054" width="31" height="1"/>
<rect x="2272" y="992" width="31" height="1"/>
<rect x="2272" y="941" width="31" height="1"/>
<rect x="2272" y="899" width="31" height="1"/>
<rect x="2272" y="862" width="31" height="1"/>
<rect x="2272" y="829" width="31" height="1"/>
<rect x="2241" y="800" width="62" height="1"/>
<rect x="2272" y="607" width="31" height="1"/>
<rect x="2272" y="494" width="31" height="1"/>
<rect x="2272" y="414" width="31" height="1"/>
<rect x="2272" y="352" width="31" height="1"/>
<rect x="2272" y="301" width="31" height="1"/>
<rect x="2272" y="259" width="31" height="1"/>
<rect x="2272" y="222" width="31" height="1"/>
<rect x="2272" y="189" width="31" height="1"/>
<rect x="2241" y="160" width="62" height="1"/>
</g>
<g>
<text transform="translate(432.75,1512.00) scale(1,1.020)" font-size="52">10</text>
<text transform="translate(488.00,1488.70) scale(1,1.020)" font-size="34">−1</text>
<text transform="translate(1025.33,1512.00) scale(1,1.020)" font-size="52">1</text>
<text transform="translate(1564.75,1512.00) scale(1,1.020)" font-size="52">10</text>
<text transform="translate(2113.55,1512.00) scale(1,1.020)" font-size="52">10</text>
<text transform="translate(2169.90,1488.70) scale(1,1.020)" font-size="34">2</text>
<text transform="translate(278.27,190.80) scale(1,1.020)" font-size="52">1</text>
<text transform="translate(226.50,444.10) scale(1,1.020)" font-size="52">0.8</text>
<text transform="translate(226.50,697.10) scale(1,1.020)" font-size="52">0.6</text>
<text transform="translate(225.75,951.10) scale(1,1.020)" font-size="52">0.4</text>
<text transform="translate(227.00,1204.10) scale(1,1.020)" font-size="52">0.2</text>
<text transform="translate(269.50,1458.10) scale(1,1.020)" font-size="52">0</text>
<text transform="translate(2330.70,178.40) scale(1,1.020)" font-size="52">10</text>
<text transform="translate(2330.20,319.60) scale(1,1.020)" font-size="52">6</text>
<text transform="translate(2330.70,370.60) scale(1,1.020)" font-size="52">5</text>
<text transform="translate(2331.45,432.60) scale(1,1.020)" font-size="52">4</text>
<text transform="translate(2330.70,512.60) scale(1,1.020)" font-size="52">3</text>
<text transform="translate(2330.20,625.60) scale(1,1.020)" font-size="52">2</text>
<text transform="translate(2331.22,818.00) scale(1,1.020)" font-size="52">1</text>
<text transform="translate(2331.45,1076.50) scale(1,1.020)" font-size="52">4</text>
<text transform="translate(2355.85,1083.00) scale(1,1.020)" font-size="59">×</text>
<text transform="translate(2385.40,1076.50) scale(1,1.020)" font-size="52">10</text>
<text transform="translate(2442.60,1053.30) scale(1,1.020)" font-size="34">−1</text>
<text transform="translate(2330.70,1156.50) scale(1,1.020)" font-size="52">3</text>
<text transform="translate(2355.85,1163.00) scale(1,1.020)" font-size="59">×</text>
<text transform="translate(2385.40,1156.50) scale(1,1.020)" font-size="52">10</text>
<text transform="translate(2442.60,1133.30) scale(1,1.020)" font-size="34">−1</text>
<text transform="translate(2330.20,1269.50) scale(1,1.020)" font-size="52">2</text>
<text transform="translate(2355.85,1276.00) scale(1,1.020)" font-size="59">×</text>
<text transform="translate(2385.40,1269.50) scale(1,1.020)" font-size="52">10</text>
<text transform="translate(2442.60,1246.30) scale(1,1.020)" font-size="34">−1</text>
<text transform="translate(2330.70,1462.80) scale(1,1.020)" font-size="52">10</text>
<text transform="translate(2387.90,1439.60) scale(1,1.020)" font-size="34">−1</text>
<rect x="434.62" y="1506.64" width="11.15" height="6.86" fill="#000"/>
<rect x="450.46" y="1506.64" width="10.69" height="6.86" fill="#000"/>
<rect x="509.08" y="1484.75" width="7.29" height="5.45" fill="#000"/>
<rect x="519.43" y="1484.75" width="6.99" height="5.45" fill="#000"/>
<rect x="1027.20" y="1506.64" width="11.15" height="6.86" fill="#000"/>
<rect x="1043.03" y="1506.64" width="10.69" height="6.86" fill="#000"/>
<rect x="1566.62" y="1506.64" width="11.15" height="6.86" fill="#000"/>
<rect x="1582.46" y="1506.64" width="10.69" height="6.86" fill="#000"/>
<rect x="2115.42" y="1506.64" width="11.15" height="6.86" fill="#000"/>
<rect x="2131.26" y="1506.64" width="10.69" height="6.86" fill="#000"/>
<rect x="280.15" y="185.44" width="11.15" height="6.86" fill="#000"/>
<rect x="295.98" y="185.44" width="10.69" height="6.86" fill="#000"/>
<rect x="2332.57" y="173.04" width="11.15" height="6.86" fill="#000"/>
<rect x="2348.41" y="173.04" width="10.69" height="6.86" fill="#000"/>
<rect x="2333.10" y="812.64" width="11.15" height="6.86" fill="#000"/>
<rect x="2348.93" y="812.64" width="10.69" height="6.86" fill="#000"/>
<rect x="2387.27" y="1071.14" width="11.15" height="6.86" fill="#000"/>
<rect x="2403.11" y="1071.14" width="10.69" height="6.86" fill="#000"/>
<rect x="2463.68" y="1049.35" width="7.29" height="5.45" fill="#000"/>
<rect x="2474.03" y="1049.35" width="6.99" height="5.45" fill="#000"/>
<rect x="2387.27" y="1151.14" width="11.15" height="6.86" fill="#000"/>
<rect x="2403.11" y="1151.14" width="10.69" height="6.86" fill="#000"/>
<rect x="2463.68" y="1129.35" width="7.29" height="5.45" fill="#000"/>
<rect x="2474.03" y="1129.35" width="6.99" height="5.45" fill="#000"/>
<rect x="2387.27" y="1264.14" width="11.15" height="6.86" fill="#000"/>
<rect x="2403.11" y="1264.14" width="10.69" height="6.86" fill="#000"/>
<rect x="2463.68" y="1242.35" width="7.29" height="5.45" fill="#000"/>
<rect x="2474.03" y="1242.35" width="6.99" height="5.45" fill="#000"/>
<rect x="2332.57" y="1457.44" width="11.15" height="6.86" fill="#000"/>
<rect x="2348.41" y="1457.44" width="10.69" height="6.86" fill="#000"/>
<rect x="2408.98" y="1435.65" width="7.29" height="5.45" fill="#000"/>
<rect x="2419.33" y="1435.65" width="6.99" height="5.45" fill="#000"/>
<text x="1738.05" y="1543.40" font-size="52">Injection Amplitude</text>
<text transform="translate(162.20,1568.10) rotate(-90)" font-size="52">Injection amplitude ratio probability, given the antenna factors</text>
<text transform="translate(2462.20,1026.70) rotate(-90)" font-size="52">Number of valid undetected injections</text>
<text transform="translate(550.65,75.20) scale(1,1.075)" font-size="74" xml:space="preserve">I</text>
<text x="571.21" y="75.20" font-size="74" xml:space="preserve">njection amplitude ratio </text>
<text transform="translate(1352.78,75.20) scale(1,1.075)" font-size="74" xml:space="preserve">PROBABILITY</text>
<text x="1838.05" y="75.20" font-size="74" xml:space="preserve"> vs.</text>
<text class="xi" x="1991.40" y="75.20" font-size="75.5">Ξ</text>
</g>
</svg></body></html>
